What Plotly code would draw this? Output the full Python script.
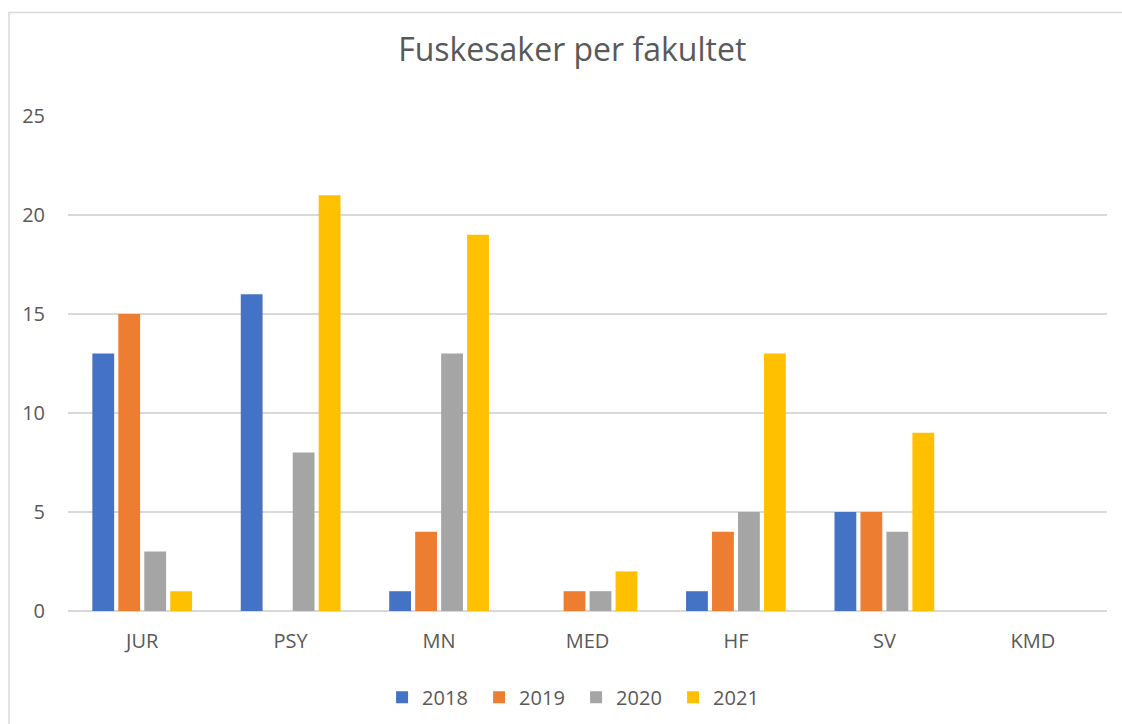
import plotly.graph_objects as go

categories = ["JUR", "PSY", "MN", "MED", "HF", "SV", "KMD"]
years = ["2018", "2019", "2020", "2021"]
v2018 = [13, 16, 1, 0, 1, 5, 0]
v2019 = [15, 0, 4, 1, 4, 5, 0]
v2020 = [3, 8, 13, 1, 5, 4, 0]
v2021 = [1, 21, 19, 2, 13, 9, 0]
series = [v2018, v2019, v2020, v2021]
colors = ["#4472C4", "#ED7D31", "#A5A5A5", "#FFC000"]

FONT = "'Open Sans', Lato, sans-serif"
TXT = "#595959"

fig = go.Figure()
for name, vals, col in zip(years, series, colors):
    fig.add_trace(go.Bar(x=categories, y=vals, name=name, marker_color=col,
                         marker_line_width=0))

fig.update_layout(
    width=1122, height=724,
    margin=dict(l=68, r=15, t=116, b=113, autoexpand=False),
    paper_bgcolor="white", plot_bgcolor="white",
    barmode="group", bargap=0.30, bargroupgap=0.16,
    font=dict(family=FONT, color=TXT, size=20),
    title=dict(text="Fuskesaker per fakultet", x=0.51, xref="container",
               xanchor="center", y=1 - 50 / 724, yanchor="middle",
               font=dict(size=32, color=TXT, family=FONT)),
    showlegend=True,
    legend=dict(orientation="h", x=0.489, xanchor="center", y=-0.174,
                yanchor="middle", font=dict(size=20, color=TXT),
                entrywidth=52, entrywidthmode="pixels", traceorder="normal"),
    xaxis=dict(showgrid=False, showline=False, ticks="", ticklabelstandoff=16,
               automargin=False, tickfont=dict(size=20, color=TXT)),
    yaxis=dict(range=[0, 25], dtick=5, showgrid=True, gridcolor="#D9D9D9",
               gridwidth=1.5, zeroline=True, zerolinecolor="#D9D9D9",
               zerolinewidth=1.5, showline=False, ticks="", automargin=False,
               ticklabelstandoff=22, tickfont=dict(size=20, color=TXT)),
    shapes=[dict(type="rect", xref="paper", yref="paper",
                 x0=(9 - 68) / 1039, x1=(1140 - 68) / 1039,
                 y0=-(740 - 611) / 495, y1=1 + (116 - 12.5) / 495,
                 line=dict(color="#D9D9D9", width=1.5), layer="below")],
)

fig.write_html("out.html", config={"displayModeBar": False},
               post_script="document.body.style.margin='0';document.body.style.overflow='hidden';")
